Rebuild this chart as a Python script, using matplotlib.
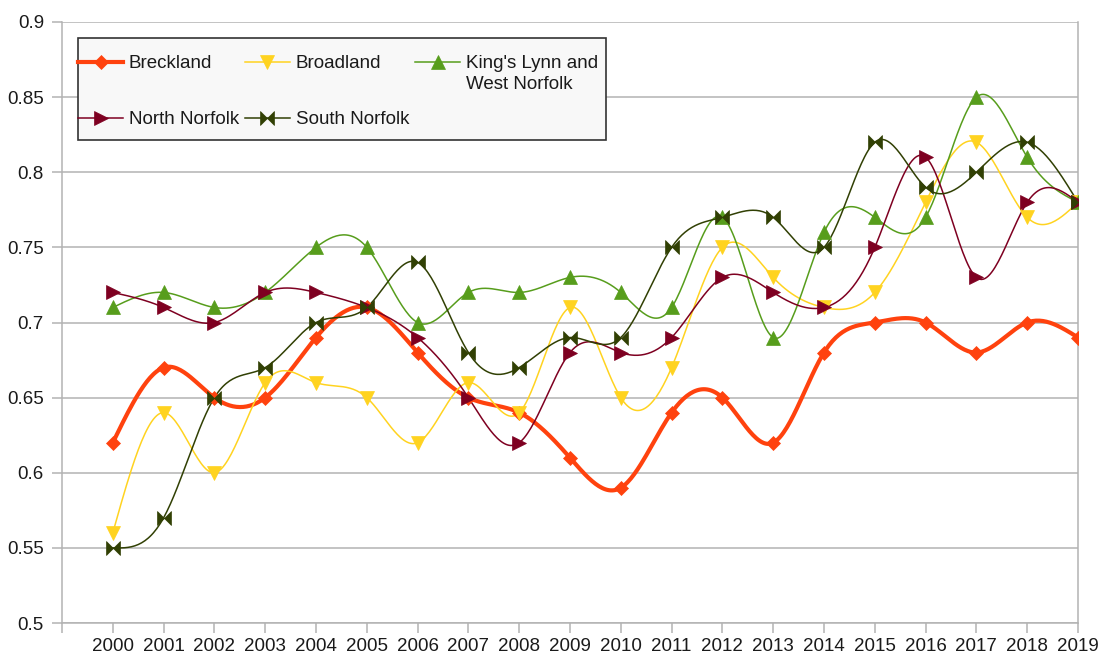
import numpy as np
import matplotlib
matplotlib.use("Agg")
import matplotlib.pyplot as plt
from matplotlib.path import Path
from matplotlib.patches import Rectangle

years = list(range(2000, 2020))

breckland = [0.62, 0.67, 0.65, 0.65, 0.69, 0.71, 0.68, 0.65, 0.64, 0.61,
             0.59, 0.64, 0.65, 0.62, 0.68, 0.70, 0.70, 0.68, 0.70, 0.69]
broadland = [0.56, 0.64, 0.60, 0.66, 0.66, 0.65, 0.62, 0.66, 0.64, 0.71,
             0.65, 0.67, 0.75, 0.73, 0.71, 0.72, 0.78, 0.82, 0.77, 0.78]
kings_lynn = [0.71, 0.72, 0.71, 0.72, 0.75, 0.75, 0.70, 0.72, 0.72, 0.73,
              0.72, 0.71, 0.77, 0.69, 0.76, 0.77, 0.77, 0.85, 0.81, 0.78]
north_norfolk = [0.72, 0.71, 0.70, 0.72, 0.72, 0.71, 0.69, 0.65, 0.62, 0.68,
                 0.68, 0.69, 0.73, 0.72, 0.71, 0.75, 0.81, 0.73, 0.78, 0.78]
south_norfolk = [0.55, 0.57, 0.65, 0.67, 0.70, 0.71, 0.74, 0.68, 0.67, 0.69,
                 0.69, 0.75, 0.77, 0.77, 0.75, 0.82, 0.79, 0.80, 0.82, 0.78]

# legend labels (King's Lynn wraps onto two lines in the original)
names = ["Breckland", "Broadland", "King's Lynn and", "North Norfolk", "South Norfolk"]
kl_second_line = "West Norfolk"
colors = ["#ff420e", "#ffd320", "#579d1c", "#7e0021", "#314004"]

y_ticks = [0.5, 0.55, 0.6, 0.65, 0.7, 0.75, 0.8, 0.85, 0.9]
y_labels = ["0.5", "0.55", "0.6", "0.65", "0.7", "0.75", "0.8", "0.85", "0.9"]


def natural_spline(x, y, steps=30):
    # natural cubic spline, like the "cubic spline" smoothing in LibreOffice
    x = np.asarray(x, float)
    y = np.asarray(y, float)
    n = len(x)
    h = np.diff(x)
    A = np.zeros((n, n))
    b = np.zeros(n)
    A[0, 0] = 1
    A[-1, -1] = 1
    for i in range(1, n - 1):
        A[i, i - 1] = h[i - 1]
        A[i, i] = 2 * (h[i - 1] + h[i])
        A[i, i + 1] = h[i]
        b[i] = 6 * ((y[i + 1] - y[i]) / h[i] - (y[i] - y[i - 1]) / h[i - 1])
    M = np.linalg.solve(A, b)
    xs, ys = [], []
    for i in range(n - 1):
        t = np.linspace(x[i], x[i + 1], steps, endpoint=(i == n - 2))
        a = x[i + 1] - t
        c = t - x[i]
        s = (M[i] * a ** 3 + M[i + 1] * c ** 3) / (6 * h[i]) \
            + (y[i] / h[i] - M[i] * h[i] / 6) * a \
            + (y[i + 1] / h[i] - M[i + 1] * h[i] / 6) * c
        xs.append(t)
        ys.append(s)
    return np.concatenate(xs), np.concatenate(ys)


bowtie = Path([(-1, -1), (1, 1), (1, -1), (-1, 1), (-1, -1)],
              [Path.MOVETO, Path.LINETO, Path.LINETO, Path.LINETO, Path.CLOSEPOLY])

series = [breckland, broadland, kings_lynn, north_norfolk, south_norfolk]
markers = ["D", "v", "^", ">", bowtie]
msizes = [7.5, 10, 10, 10, 10]
widths = [3.0, 1.1, 1.1, 1.1, 1.1]

plt.rcParams['font.family'] = ['Liberation Sans', 'DejaVu Sans']
FS = 13.5

fig = plt.figure(figsize=(11.06, 6.57), dpi=100)
ax = fig.add_axes([62 / 1106, 1 - 623 / 657, (1078 - 62) / 1106, (623 - 22) / 657])

handles = []
for vals, name, col, mk, ms, lw in zip(series, names, colors, markers, msizes, widths):
    sx, sy = natural_spline(years, vals)
    ax.plot(sx, sy, color=col, lw=lw, zorder=3)
    ax.plot(years, vals, ls="none", marker=mk, ms=ms, color=col,
            markeredgecolor=col, markeredgewidth=0.5, zorder=4)
    h, = ax.plot([], [], color=col, lw=lw, marker=mk, ms=ms,
                 markeredgecolor=col, markeredgewidth=0.5)
    handles.append(h)

ax.set_xlim(1999, 2019)
ax.set_ylim(0.5, 0.9)
ax.set_xticks(range(1999, 2020))
ax.set_xticklabels([""] + [str(y) for y in years])
ax.set_yticks(y_ticks)
ax.set_yticklabels(y_labels)
ax.yaxis.grid(True, color="#b3b3b3", lw=1.1)
ax.set_axisbelow(True)
for s in ["left", "bottom", "right"]:
    ax.spines[s].set_color("#b3b3b3")
    ax.spines[s].set_linewidth(1.1)
ax.spines["top"].set_visible(False)
ax.tick_params(axis="both", colors="#b3b3b3", labelcolor="#1a1a1a",
               labelsize=FS, length=7, width=1.1)
ax.tick_params(axis="y", pad=6)
ax.tick_params(axis="x", pad=4)


def px_to_axes(px, py):
    return (px - 62) / 1016, (623 - py) / 601


# legend box drawn by hand so the padding matches (tight left/right, roomy top/bottom)
x0, y0 = px_to_axes(78, 140)
x1, y1 = px_to_axes(606, 38)
box = Rectangle((x0, y0), x1 - x0, y1 - y0, transform=ax.transAxes,
                facecolor="#f8f8f8", edgecolor="#333333", lw=1.2, zorder=5)
ax.add_patch(box)

order = [0, 3, 1, 4, 2]
leg = ax.legend([handles[i] for i in order], [names[i] for i in order],
                ncol=3, loc="upper left",
                bbox_to_anchor=px_to_axes(78, 55),
                borderaxespad=0, borderpad=0, fontsize=FS, numpoints=1,
                handlelength=2.4, handletextpad=0.32, columnspacing=0.3,
                labelspacing=2.07, frameon=False)
leg.set_zorder(6)
for t in leg.get_texts():
    t.set_color("#1a1a1a")

kl_text = leg.get_texts()[4]
ax.annotate(kl_second_line, xy=(0, 0), xycoords=kl_text, xytext=(0, -2.6),
            textcoords="offset points", ha="left", va="top",
            fontsize=FS, color="#1a1a1a", zorder=7)

fig.savefig("out.png", dpi=100)
